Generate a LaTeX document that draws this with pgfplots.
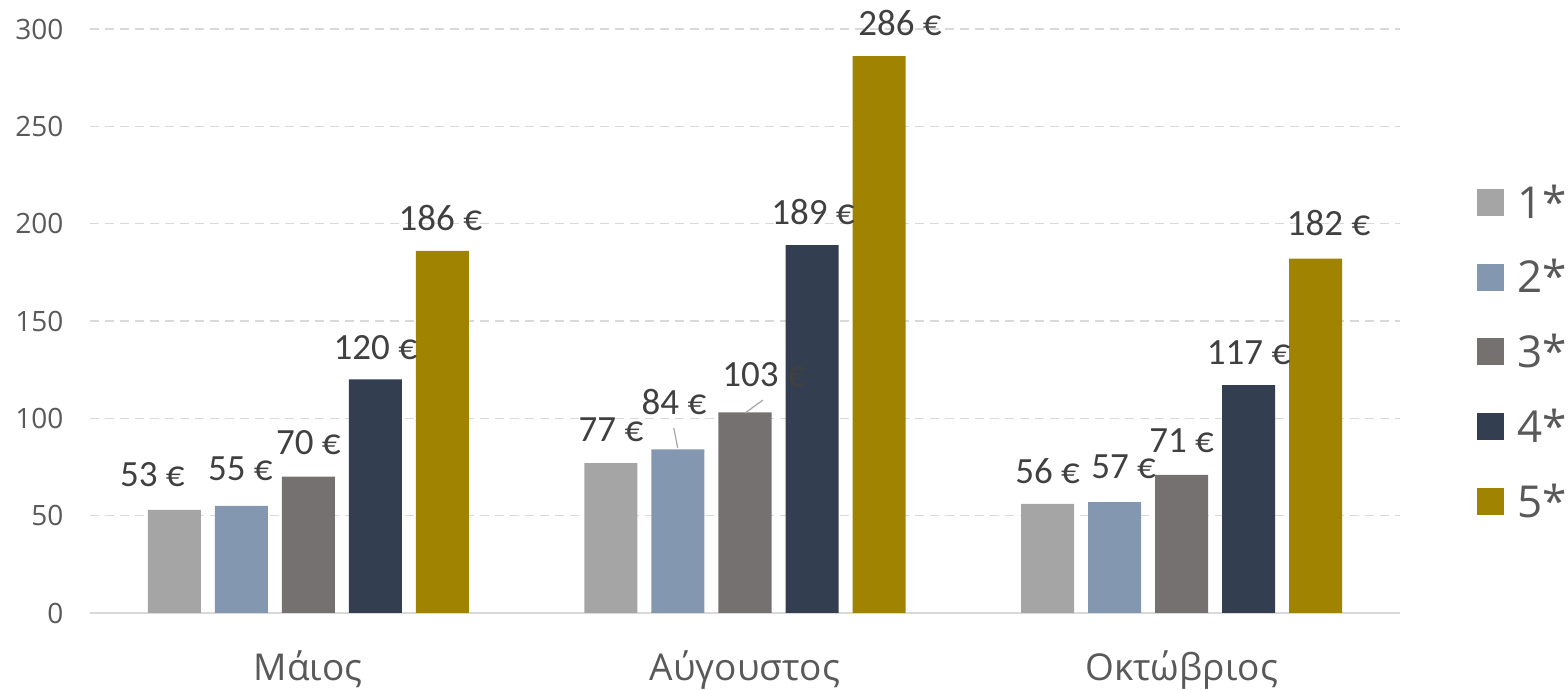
\documentclass[border=0pt]{standalone}
\usepackage{pgfplots}
\usepackage{pgfplotstable}
\pgfplotsset{compat=1.18}
\usepackage{fontspec}
\setmainfont{Open Sans}
\newfontfamily\lblfont{Carlito}

\definecolor{cOne}{HTML}{A5A5A5}
\definecolor{cTwo}{HTML}{8497B0}
\definecolor{cThree}{HTML}{767171}
\definecolor{cFour}{HTML}{333F50}
\definecolor{cFive}{HTML}{A08300}
\definecolor{txt}{HTML}{595959}
\definecolor{lbl}{HTML}{404040}
\definecolor{gridc}{HTML}{D9D9D9}
\definecolor{leader}{HTML}{A6A6A6}

% x = month (0 Mai, 1 Aug, 2 Okt), y = value, dx/dy = label offset
\pgfplotstableread{
x y dx dy
0 53 -22 35
1 77 0 33
2 56 0 33
}\sOne
\pgfplotstableread{
x y dx dy
0 55 -1 37
1 84 -4 47
2 57 9 35
}\sTwo
\pgfplotstableread{
x y dx dy
0 70 0 34
1 103 19 38
2 71 0 34
}\sThree
\pgfplotstableread{
x y dx dy
0 120 0 32
1 189 1 33
2 117 0 33
}\sFour
\pgfplotstableread{
x y dx dy
0 186 -2 33
1 286 21 33
2 182 13 36
}\sFive

\begin{document}
\begin{tikzpicture}
\useasboundingbox (-90pt,-77pt) rectangle (1478pt,613pt);
\begin{axis}[
    at={(0pt,0pt)}, anchor=south west,
    scale only axis,
    width=1310pt,
    height=584pt,
    ybar=14pt,
    bar width=53pt,
    xmin=-0.5, xmax=2.5,
    ymin=0, ymax=300,
    xtick={0,1,2},
    xticklabels={Μάιος, Αύγουστος, Οκτώβριος},
    ytick={0,50,100,150,200,250,300},
    /pgf/number format/assume math mode=true,
    xticklabel style={font=\fontsize{37}{40}\selectfont, text=txt, yshift=-34pt},
    yticklabel style={font=\fontsize{28}{32}\selectfont, text=txt, xshift=-23pt},
    major tick length=0pt,
    axis x line*=bottom,
    axis y line*=left,
    y axis line style={draw=none},
    x axis line style={gridc, line width=1.5pt, -},
    ymajorgrids=true,
    grid style={gridc, dashed, line width=1.2pt, dash pattern=on 9pt off 6pt},
    point meta=y,
    visualization depends on={\thisrow{dx} \as \dx},
    visualization depends on={\thisrow{dy} \as \dy},
    nodes near coords={\pgfmathprintnumber{\pgfplotspointmeta}~€},
    nodes near coords style={font=\lblfont\fontsize{37}{40}\selectfont, text=lbl,
        anchor=center, inner sep=0pt, xshift=\dx pt, yshift=\dy pt},
    every axis plot/.append style={draw=none},
    legend image code/.code={\fill[#1] (0pt,-13.5pt) rectangle (27pt,13.5pt);},
    legend style={
        at={(1.056,0.447)}, anchor=west,
        draw=none, fill=none,
        font=\fontsize{44}{48}\selectfont, text=txt,
        row sep=36pt,
        legend cell align=left,
        /tikz/every odd column/.append style={column sep=12pt},
    },
]
\addplot[fill=cOne] table[x=x, y=y] {\sOne};
\addplot[fill=cTwo] table[x=x, y=y] {\sTwo};
\addplot[fill=cThree] table[x=x, y=y] {\sThree};
\addplot[fill=cFour] table[x=x, y=y] {\sFour};
\addplot[fill=cFive] table[x=x, y=y] {\sFive};
\legend{1*, 2*, 3*, 4*, 5*}
% leader lines of the two moved labels
\draw[leader, line width=1.2pt] (axis cs:0.837,95.0) -- (axis cs:0.846,84.7);
\draw[leader, line width=1.2pt] (axis cs:1.041,109.4) -- (axis cs:1.0,102.7);
\end{axis}
\end{tikzpicture}
\end{document}
